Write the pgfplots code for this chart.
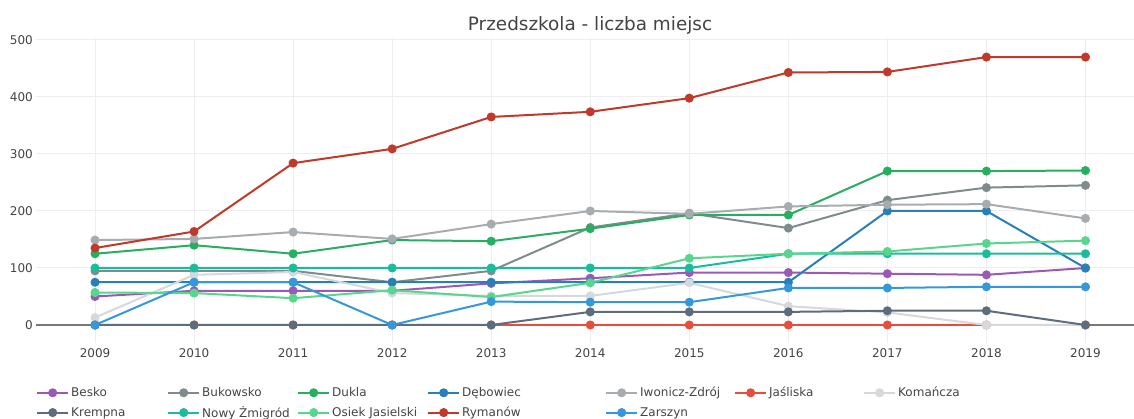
\documentclass[border=0pt]{standalone}
\usepackage{pgfplots}
\usepackage{pgfplotstable}
\pgfplotsset{compat=1.18}
\usepackage{fontspec}
\setmainfont{DejaVu Sans}
\definecolor{cBesko}{HTML}{9B59B6}
\definecolor{cBukowsko}{HTML}{7F8C8D}
\definecolor{cDukla}{HTML}{27AE60}
\definecolor{cDebowiec}{HTML}{2980B9}
\definecolor{cIwonicz}{HTML}{A6ACAF}
\definecolor{cJasliska}{HTML}{E74C3C}
\definecolor{cKomancza}{HTML}{D5D8DC}
\definecolor{cKrempna}{HTML}{5D6D7E}
\definecolor{cNowy}{HTML}{1ABC9C}
\definecolor{cOsiek}{HTML}{58D68D}
\definecolor{cRymanow}{HTML}{C0392B}
\definecolor{cZarszyn}{HTML}{3498DB}
\definecolor{cText}{HTML}{444444}
\definecolor{cGrid}{HTML}{EEEEEE}
\definecolor{cZero}{HTML}{777777}

\pgfplotstableread{
year Besko Bukowsko Dukla Debowiec Iwonicz Jasliska Komancza Krempna Nowy Osiek Rymanow Zarszyn
2009 50 95 125 75 149 0 13 0 100 57 135 0
2010 60 95 140 75 151 0 88 0 100 56 164 75
2011 60 95 125 75 163 0 93 0 100 47 284 75
2012 60 75 149 75 151 0 56 0 100 61 309 0
2013 73 95 147 75 177 0 51 0 100 49 365 41
2014 82 171 169 75 200 0 51 23 100 74 374 40
2015 92 196 193 75 195 0 74 23 100 117 398 40
2016 92 170 193 75 208 0 33 23 125 125 443 65
2017 90 219 270 200 211 0 22 25 125 129 444 65
2018 88 241 270 200 212 0 0 25 125 143 470 67
2019 100 245 271 100 187 0 0 0 125 148 470 67
}\datatable

\begin{document}
\begin{tikzpicture}
\path[use as bounding box] (0,0) rectangle (1134pt,418pt);
\begin{axis}[
  at={(36pt,75pt)}, anchor=south west,
  scale only axis, width=1098pt, height=305pt,
  xmin=2008.404, xmax=2019.49,
  ymin=-31.6, ymax=503.5,
  xtick={2009,2010,...,2019},
  ytick={0,100,...,500},
  extra y ticks={0},
  extra y tick labels={},
  extra y tick style={major grid style={color=cZero, line width=1.2pt}},
  grid=major,
  major grid style={color=cGrid, line width=1pt},
  axis line style={draw=none},
  major tick length=0pt,
  /pgf/number format/1000 sep={},
  /pgf/number format/assume math mode=true,
  tick label style={font=\fontsize{12}{14}\selectfont, text=cText},
  yticklabel style={anchor=east, inner sep=0pt, xshift=-3pt},
  xticklabel style={anchor=north, inner sep=0pt, yshift=-5.5pt},
  title={Przedszkola - liczba miejsc},
  title style={at={(axis description cs:0.5046,1.0206)}, anchor=center, font=\fontsize{18.4}{21}\selectfont, text=cText, inner sep=0pt},
  every axis plot/.append style={line width=2pt, mark=*, mark size=3.5pt, line join=round},
  legend columns=7,
  legend cell align=left,
  legend image code/.code={\draw[mark repeat=2,mark phase=2,#1] plot coordinates {(0pt,0pt) (15.5pt,0pt) (31pt,0pt)};},
  legend style={
    at={(axis description cs:0,0)}, anchor=north west, xshift=0pt, yshift=-42pt,
    draw=none, fill=none, inner sep=0pt,
    font=\fontsize{12}{14}\selectfont, text=cText,
    row sep=4pt, column sep=0pt,
    /tikz/every odd column/.append style={column sep=0pt},
  },
]
\addplot[color=cBesko, mark options={fill=cBesko}] table[x=year,y=Besko] {\datatable};
\addlegendentry{\makebox[94pt][l]{Besko}}
\addplot[color=cBukowsko, mark options={fill=cBukowsko}] table[x=year,y=Bukowsko] {\datatable};
\addlegendentry{\makebox[93pt][l]{Bukowsko}}
\addplot[color=cDukla, mark options={fill=cDukla}] table[x=year,y=Dukla] {\datatable};
\addlegendentry{\makebox[93pt][l]{Dukla}}
\addplot[color=cDebowiec, mark options={fill=cDebowiec}] table[x=year,y=Debowiec] {\datatable};
\addlegendentry{\makebox[141pt][l]{Dębowiec}}
\addplot[color=cIwonicz, mark options={fill=cIwonicz}] table[x=year,y=Iwonicz] {\datatable};
\addlegendentry{\makebox[92pt][l]{Iwonicz-Zdrój}}
\addplot[color=cJasliska, mark options={fill=cJasliska}] table[x=year,y=Jasliska] {\datatable};
\addlegendentry{\makebox[92pt][l]{Jaśliska}}
\addplot[color=cKomancza, mark options={fill=cKomancza}] table[x=year,y=Komancza] {\datatable};
\addlegendentry{Komańcza}
\addplot[color=cKrempna, mark options={fill=cKrempna}] table[x=year,y=Krempna] {\datatable};
\addlegendentry{Krempna}
\addplot[color=cNowy, mark options={fill=cNowy}] table[x=year,y=Nowy] {\datatable};
\addlegendentry{Nowy Żmigród}
\addplot[color=cOsiek, mark options={fill=cOsiek}] table[x=year,y=Osiek] {\datatable};
\addlegendentry{Osiek Jasielski}
\addplot[color=cRymanow, mark options={fill=cRymanow}] table[x=year,y=Rymanow] {\datatable};
\addlegendentry{Rymanów}
\addplot[color=cZarszyn, mark options={fill=cZarszyn}] table[x=year,y=Zarszyn] {\datatable};
\addlegendentry{Zarszyn}
\end{axis}
\end{tikzpicture}
\end{document}
